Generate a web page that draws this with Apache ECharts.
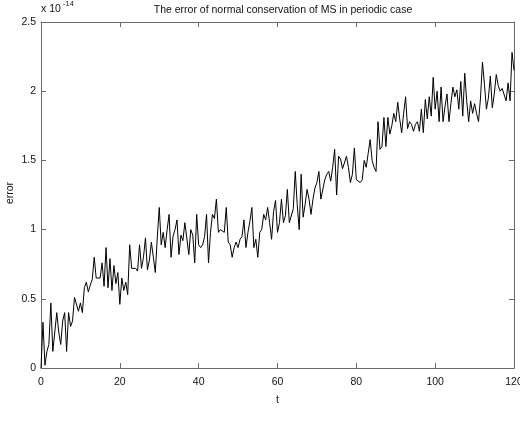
<!DOCTYPE html>
<html>
<head>
<meta charset="utf-8">
<script src="https://cdn.jsdelivr.net/npm/echarts@6/dist/echarts.min.js"></script>
<style>
  html, body { margin: 0; padding: 0; background: #fff; }
  #chart { width: 520px; height: 422px; }
</style>
</head>
<body>
<div id="chart"></div>
<script>
// Sampling step of the time axis t
const tStep = 0.5;

// Conservation error, in units of 1e-14, sampled every tStep from t = 0 to t = 120
const errorValues = [
  0.00,0.33,0.02,0.12,0.17,0.47,0.12,0.13,0.40,0.26, 0.17,0.34,0.40,0.12,0.40,0.30,0.34,0.51,0.52,0.41,
  0.47,0.40,0.58,0.62,0.55,0.60,0.64,0.80,0.65,0.66, 0.65,0.76,0.59,0.87,0.58,0.79,0.56,0.74,0.61,0.69,
  0.46,0.65,0.56,0.62,0.53,0.89,0.72,0.71,0.72,0.70, 0.89,0.72,0.80,0.94,0.71,0.78,0.91,0.80,0.69,0.94,
  1.16,0.89,0.98,0.87,1.00,1.11,0.80,0.95,1.00,1.07, 0.82,0.96,0.92,1.05,1.05,0.82,1.00,0.96,0.76,1.11,
  0.89,0.87,0.89,0.95,1.11,0.76,0.98,1.11,1.08,1.22, 0.98,1.00,0.99,0.98,1.16,0.91,0.89,0.80,0.87,0.91,
  0.87,0.93,0.95,1.07,0.87,0.98,1.06,1.16,0.87,0.93, 0.80,0.98,1.00,1.11,1.07,1.16,1.05,0.93,1.13,1.21,
  0.98,1.05,1.22,1.05,1.10,1.29,1.05,1.05,1.15,1.42, 1.18,1.00,1.40,1.09,1.18,1.29,1.22,1.11,1.22,1.30,
  1.34,1.42,1.22,1.22,1.36,1.40,1.42,1.35,1.45,1.58, 1.25,1.53,1.51,1.44,1.44,1.53,1.45,1.34,1.40,1.59,
  1.36,1.35,1.34,1.36,1.50,1.45,1.55,1.65,1.50,1.45, 1.42,1.78,1.58,1.60,1.81,1.60,1.81,1.69,1.75,1.84,
  1.78,1.92,1.80,1.70,1.84,1.96,1.73,1.78,1.76,1.71, 1.76,1.78,1.71,1.87,1.70,1.94,1.80,1.96,1.82,2.10,
  1.87,2.00,1.78,2.03,1.78,1.89,1.98,1.78,1.91,2.03, 1.96,2.01,1.87,2.07,1.82,2.13,1.93,1.78,1.93,1.84,
  1.91,1.84,1.78,1.95,2.21,2.05,1.87,1.95,2.11,1.88, 1.98,2.12,2.04,2.00,2.02,2.02,1.93,2.06,1.93,2.28,
  2.15
];

// Axis ticks
const xTicks = [0, 20, 40, 60, 80, 100, 120];
const yTicks = [0, 0.5, 1, 1.5, 2, 2.5];

const titleText = 'The error of normal conservation of MS in periodic case';
const xName = 't';
const yName = 'error';
const scaleBase = 'x 10';
const scaleExp = '-14';

const FONT = '"Liberation Sans", Arial, Helvetica, sans-serif';
const AXIS_COLOR = '#6a6a6a';
const TEXT_COLOR = '#111';

// Plot box in pixels
const box = { left: 41, right: 514, top: 22, bottom: 368 };

const points = errorValues.map((v, i) => [i * tStep, v]);

// Box-style axis: line on its own edge, ticks pointing into the plot
const boxAxis = (extra) => Object.assign({
  axisLine: { show: true, onZero: false, lineStyle: { color: AXIS_COLOR, width: 1 } },
  axisTick: { show: true, inside: true, length: 5, lineStyle: { color: AXIS_COLOR, width: 1 } },
  splitLine: { show: false },
  axisLabel: { show: false }
}, extra);

const xRange = { min: xTicks[0], max: xTicks[xTicks.length - 1], interval: xTicks[1] - xTicks[0] };
const yRange = { min: yTicks[0], max: yTicks[yTicks.length - 1], interval: yTicks[1] - yTicks[0] };

const chart = echarts.init(document.getElementById('chart'), null, { renderer: 'canvas' });
chart.setOption({
  animation: false,
  backgroundColor: '#fff',
  textStyle: { fontFamily: FONT },
  title: {
    text: titleText,
    left: 278, top: 0, textAlign: 'center',
    textStyle: { fontFamily: FONT, fontSize: 10.5, fontWeight: 'normal', color: TEXT_COLOR }
  },
  grid: {
    left: box.left, right: 520 - box.right, top: box.top, bottom: 422 - box.bottom,
    containLabel: false, outerBoundsMode: 'none'
  },
  xAxis: [
    boxAxis(Object.assign({
      type: 'value', position: 'bottom',
      axisLabel: { show: true, margin: 9, fontFamily: FONT, fontSize: 10.5, color: TEXT_COLOR }
    }, xRange)),
    boxAxis(Object.assign({ type: 'value', position: 'top' }, xRange))
  ],
  yAxis: [
    boxAxis(Object.assign({
      type: 'value', position: 'left',
      axisLabel: { show: true, margin: 5, fontFamily: FONT, fontSize: 10.5, color: TEXT_COLOR }
    }, yRange)),
    boxAxis(Object.assign({ type: 'value', position: 'right' }, yRange))
  ],
  graphic: [
    { type: 'text', x: 41, y: 4,
      style: { text: scaleBase, font: '10.5px ' + FONT, fill: TEXT_COLOR } },
    { type: 'text', x: 63, y: 0,
      style: { text: scaleExp, font: '7.5px ' + FONT, fill: TEXT_COLOR } },
    { type: 'text', x: (box.left + box.right) / 2, y: 400,
      style: { text: xName, font: '10.5px ' + FONT, fill: TEXT_COLOR,
               textAlign: 'center', textVerticalAlign: 'middle' } },
    { type: 'text', x: 10, y: 193, rotation: Math.PI / 2,
      style: { text: yName, font: '10.5px ' + FONT, fill: TEXT_COLOR,
               textAlign: 'center', textVerticalAlign: 'middle' } }
  ],
  series: [{
    type: 'line',
    data: points,
    showSymbol: false,
    symbol: 'none',
    lineStyle: { color: '#000', width: 1 },
    xAxisIndex: 0, yAxisIndex: 0,
    clip: true
  }]
});
</script>
</body>
</html>
